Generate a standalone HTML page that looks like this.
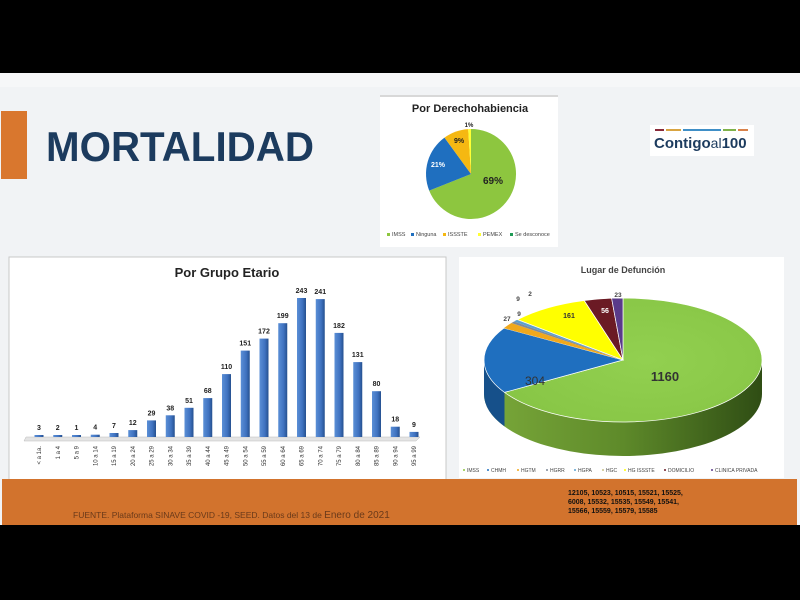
<!DOCTYPE html>
<html><head><meta charset="utf-8"><style>
html,body{margin:0;padding:0;background:#000;}
svg{display:block;font-family:"Liberation Sans",sans-serif;}
</style></head><body>
<svg width="800" height="600" viewBox="0 0 800 600" xmlns="http://www.w3.org/2000/svg">
<defs>
<linearGradient id="bar" x1="0" x2="1" y1="0" y2="0">
<stop offset="0" stop-color="#5b8fd6"/><stop offset="0.6" stop-color="#3f72c0"/><stop offset="1" stop-color="#25508f"/>
</linearGradient>
<linearGradient id="gside" x1="0" x2="1" y1="0" y2="0">
<stop offset="0" stop-color="#7aa83a"/><stop offset="0.5" stop-color="#5e8a2a"/><stop offset="1" stop-color="#2f4d14"/>
</linearGradient>
<radialGradient id="gtop" cx="0.55" cy="0.5" r="0.7">
<stop offset="0" stop-color="#92d050"/><stop offset="1" stop-color="#86c444"/>
</radialGradient>
</defs>
<rect x="0" y="0" width="800" height="600" fill="#000"/>
<rect x="0" y="73" width="800" height="452" fill="#f1f3f5"/>
<rect x="0" y="73" width="800" height="14" fill="#f6f7f8"/>
<rect x="1" y="111" width="26" height="68" fill="#d9772e"/>
<text x="46" y="161" font-size="42" font-weight="bold" fill="#1c3b5e" textLength="268" lengthAdjust="spacingAndGlyphs">MORTALIDAD</text>
<rect x="650" y="125" width="104" height="31" fill="#fff"/>
<rect x="655" y="129" width="9" height="2" fill="#8a2b3a"/>
<rect x="666" y="129" width="15" height="2" fill="#d9a441"/>
<rect x="683" y="129" width="38" height="2" fill="#3f8fc7"/>
<rect x="723" y="129" width="13" height="2" fill="#7fb24a"/>
<rect x="738" y="129" width="10" height="2" fill="#d9824a"/>
<text x="654" y="148" font-size="15" font-weight="bold" fill="#1c3b5e">Contigo<tspan font-weight="normal" font-size="14">al</tspan>100</text>
<rect x="380" y="95" width="178" height="152" fill="#fff"/>
<rect x="380" y="95" width="178" height="2" fill="#d8d8d8"/>
<text x="470" y="112" font-size="11" font-weight="bold" fill="#222" text-anchor="middle">Por Derechohabiencia</text>
<path d="M471,174 L471,129 A45,45 0 1 1 429.2,190.6 Z" fill="#8dc63f"/>
<path d="M471,174 L429.2,190.6 A45,45 0 0 1 444.5,137.6 Z" fill="#1f6fbf"/>
<path d="M471,174 L444.5,137.6 A45,45 0 0 1 468.2,129.1 Z" fill="#f5b812"/>
<path d="M471,174 L468.2,129.1 A45,45 0 0 1 471,129 Z" fill="#ffff33"/>
<text x="493" y="184" font-size="10" font-weight="bold" fill="#222" text-anchor="middle">69%</text>
<text x="438" y="167" font-size="7" font-weight="bold" fill="#fff" text-anchor="middle">21%</text>
<text x="459" y="143" font-size="7" font-weight="bold" fill="#222" text-anchor="middle">9%</text>
<text x="469" y="127" font-size="6" font-weight="bold" fill="#222" text-anchor="middle">1%</text>
<g font-size="5.5" fill="#444">
<rect x="387" y="233" width="3" height="3" fill="#8dc63f"/><text x="392" y="236">IMSS</text>
<rect x="411" y="233" width="3" height="3" fill="#1f6fbf"/><text x="416" y="236">Ninguna</text>
<rect x="443" y="233" width="3" height="3" fill="#f5b812"/><text x="448" y="236">ISSSTE</text>
<rect x="478" y="233" width="3" height="3" fill="#ffff33"/><text x="483" y="236">PEMEX</text>
<rect x="510" y="233" width="3" height="3" fill="#1f9a55"/><text x="515" y="236">Se desconoce</text>
</g>
<rect x="9" y="257" width="437" height="223" fill="#fff" stroke="#c8c8c8" stroke-width="1"/>
<text x="227" y="277" font-size="13" font-weight="bold" fill="#222" text-anchor="middle">Por Grupo Etario</text>
<path d="M26,437 L420,437 L416,441 L24,441 Z" fill="#e4e4e4" stroke="#bbb" stroke-width="0.5"/>
<g fill="url(#bar)">
<rect x="34.5" y="435" width="9" height="2"/>
<rect x="53.25" y="435" width="9" height="2"/>
<rect x="72" y="435" width="9" height="2"/>
<rect x="90.75" y="434.7" width="9" height="2.3"/>
<rect x="109.5" y="433" width="9" height="4"/>
<rect x="128.25" y="430.1" width="9" height="6.9"/>
<rect x="147" y="420.4" width="9" height="16.6"/>
<rect x="165.75" y="415.3" width="9" height="21.7"/>
<rect x="184.5" y="407.8" width="9" height="29.2"/>
<rect x="203.25" y="398.1" width="9" height="38.9"/>
<rect x="222" y="374.1" width="9" height="62.9"/>
<rect x="240.75" y="350.6" width="9" height="86.4"/>
<rect x="259.5" y="338.6" width="9" height="98.4"/>
<rect x="278.25" y="323.2" width="9" height="113.8"/>
<rect x="297" y="298" width="9" height="139"/>
<rect x="315.75" y="299.1" width="9" height="137.9"/>
<rect x="334.5" y="332.9" width="9" height="104.1"/>
<rect x="353.25" y="362.1" width="9" height="74.9"/>
<rect x="372" y="391.2" width="9" height="45.8"/>
<rect x="390.75" y="426.7" width="9" height="10.3"/>
<rect x="409.5" y="431.9" width="9" height="5.1"/>
</g>
<g font-size="7" font-weight="bold" fill="#222" text-anchor="middle">
<text x="39" y="430">3</text>
<text x="57.75" y="430">2</text>
<text x="76.5" y="430">1</text>
<text x="95.25" y="429.7">4</text>
<text x="114" y="428">7</text>
<text x="132.75" y="425.1">12</text>
<text x="151.5" y="415.4">29</text>
<text x="170.25" y="410.3">38</text>
<text x="189" y="402.8">51</text>
<text x="207.75" y="393.1">68</text>
<text x="226.5" y="369.1">110</text>
<text x="245.25" y="345.6">151</text>
<text x="264" y="333.6">172</text>
<text x="282.75" y="318.2">199</text>
<text x="301.5" y="293">243</text>
<text x="320.25" y="294.1">241</text>
<text x="339" y="327.9">182</text>
<text x="357.75" y="357.1">131</text>
<text x="376.5" y="386.2">80</text>
<text x="395.25" y="421.7">18</text>
<text x="414" y="426.9">9</text>
</g>
<g font-size="6" fill="#333" text-anchor="end">
<text transform="translate(41,446) rotate(-90)">&lt; a 1a.</text>
<text transform="translate(59.75,446) rotate(-90)">1 a 4</text>
<text transform="translate(78.5,446) rotate(-90)">5 a 9</text>
<text transform="translate(97.25,446) rotate(-90)">10 a 14</text>
<text transform="translate(116,446) rotate(-90)">15 a 19</text>
<text transform="translate(134.75,446) rotate(-90)">20 a 24</text>
<text transform="translate(153.5,446) rotate(-90)">25 a 29</text>
<text transform="translate(172.25,446) rotate(-90)">30 a 34</text>
<text transform="translate(191,446) rotate(-90)">35 a 39</text>
<text transform="translate(209.75,446) rotate(-90)">40 a 44</text>
<text transform="translate(228.5,446) rotate(-90)">45 a 49</text>
<text transform="translate(247.25,446) rotate(-90)">50 a 54</text>
<text transform="translate(266,446) rotate(-90)">55 a 59</text>
<text transform="translate(284.75,446) rotate(-90)">60 a 64</text>
<text transform="translate(303.5,446) rotate(-90)">65 a 69</text>
<text transform="translate(322.25,446) rotate(-90)">70 a 74</text>
<text transform="translate(341,446) rotate(-90)">75 a 79</text>
<text transform="translate(359.75,446) rotate(-90)">80 a 84</text>
<text transform="translate(378.5,446) rotate(-90)">85 a 89</text>
<text transform="translate(397.25,446) rotate(-90)">90 a 94</text>
<text transform="translate(416,446) rotate(-90)">95 a 99</text>
</g>
<rect x="459" y="257" width="325" height="221" fill="#fff"/>
<text x="623" y="273" font-size="9" font-weight="bold" fill="#444" text-anchor="middle">Lugar de Defunción</text>
<path d="M484,360 A139,62 0 0 0 762,360 L762,394 A139,62 0 0 1 484,394 Z" fill="url(#gside)"/>
<path d="M504.5,392.4 A139,62 0 0 1 484,360 L484,394 A139,62 0 0 0 504.5,426.4 Z" fill="#16508a"/>
<path d="M623,360 L623,298 A139,62 0 1 1 504.5,392.4 Z" fill="url(#gtop)" stroke="#fff" stroke-width="0.7"/>
<path d="M623,360 L504.5,392.4 A139,62 0 0 1 503.9,328.1 Z" fill="#1f6fbf" stroke="#fff" stroke-width="0.7"/>
<path d="M623,360 L503.9,328.1 A139,62 0 0 1 511.4,323 Z" fill="#f0a81c"/>
<path d="M623,360 L511.4,323 A139,62 0 0 1 514.1,321.5 Z" fill="#7f8a99"/>
<path d="M623,360 L514.1,321.5 A139,62 0 0 1 517,319.9 Z" fill="#5ba0d0"/>
<path d="M623,360 L517,319.9 A139,62 0 0 1 517.6,319.6 Z" fill="#c9c28a"/>
<path d="M623,360 L517.6,319.6 A139,62 0 0 1 584.2,300.5 Z" fill="#ffff00" stroke="#fff" stroke-width="0.7"/>
<path d="M623,360 L584.2,300.5 A139,62 0 0 1 611.6,298.2 Z" fill="#6b1a24" stroke="#fff" stroke-width="0.7"/>
<path d="M623,360 L611.6,298.2 A139,62 0 0 1 623,298 Z" fill="#5a3a8a" stroke="#fff" stroke-width="0.7"/>
<text x="665" y="381" font-size="13" font-weight="bold" fill="#333" text-anchor="middle">1160</text>
<text x="535" y="385" font-size="12" fill="#333" text-anchor="middle">304</text>
<text x="569" y="318" font-size="7" font-weight="bold" fill="#333" text-anchor="middle">161</text>
<text x="605" y="313" font-size="7" font-weight="bold" fill="#fff" text-anchor="middle">56</text>
<g font-size="6.5" font-weight="bold" fill="#444" text-anchor="middle">
<text x="618" y="297">23</text><text x="507" y="321">27</text><text x="519" y="316">9</text>
<text x="518" y="301">9</text><text x="530" y="296">2</text></g>
<g font-size="5" fill="#444">
<circle cx="464" cy="470" r="1" fill="#8dc63f"/><text x="467" y="472">IMSS</text>
<circle cx="488" cy="470" r="1" fill="#1f6fbf"/><text x="491" y="472">CHMH</text>
<circle cx="518" cy="470" r="1" fill="#f0a81c"/><text x="521" y="472">HGTM</text>
<circle cx="547" cy="470" r="1" fill="#7f8a99"/><text x="550" y="472">HGRR</text>
<circle cx="575" cy="470" r="1" fill="#5ba0d0"/><text x="578" y="472">HGPA</text>
<circle cx="603" cy="470" r="1" fill="#c9c28a"/><text x="606" y="472">HGC</text>
<circle cx="625" cy="470" r="1" fill="#ffff00"/><text x="628" y="472">HG ISSSTE</text>
<circle cx="665" cy="470" r="1" fill="#6b1a24"/><text x="668" y="472">DOMICILIO</text>
<circle cx="712" cy="470" r="1" fill="#5a3a8a"/><text x="715" y="472">CLINICA PRIVADA</text>
</g>
<rect x="0" y="479" width="800" height="46" fill="#d2732d"/>
<rect x="0" y="479" width="2" height="46" fill="#f1f3f5"/>
<rect x="797" y="479" width="3" height="46" fill="#f1f3f5"/>
<text x="73" y="518" font-size="8.5" fill="#6a3a1a">FUENTE. Plataforma SINAVE COVID -19, SEED. Datos del 13 de <tspan font-size="10">Enero de 2021</tspan></text>
<g font-size="7" font-weight="bold" fill="#111">
<text x="568" y="495">12105, 10523, 10515, 15521, 15525,</text>
<text x="568" y="504">6008, 15532, 15535, 15549, 15541,</text>
<text x="568" y="513">15566, 15559, 15579, 15585</text>
</g>
</svg>
</body></html>
